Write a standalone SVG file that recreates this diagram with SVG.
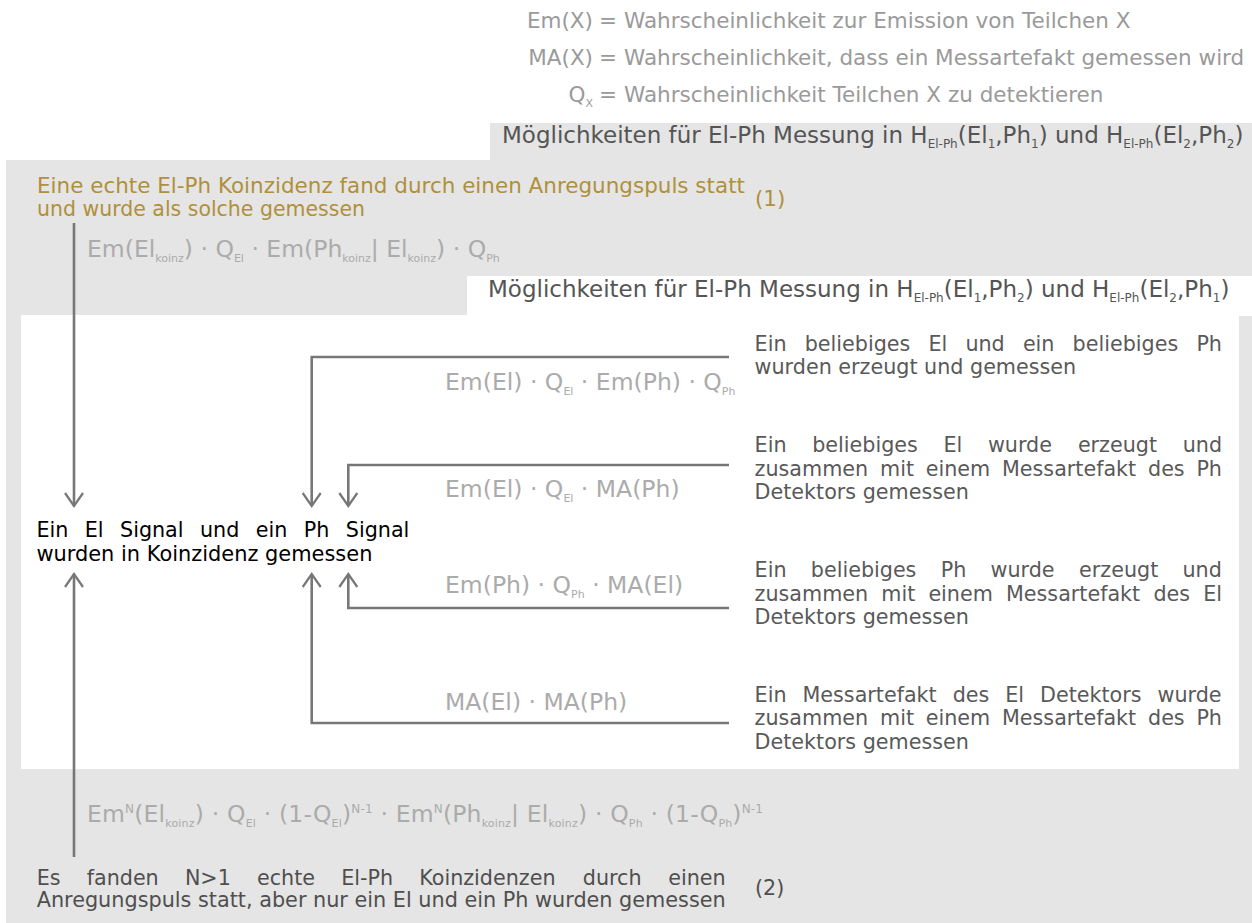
<svg xmlns="http://www.w3.org/2000/svg" width="1252" height="923" viewBox="0 0 1252 923">
<defs>
<style>
text{font-family:"DejaVu Sans",sans-serif}
.leg{font-size:21.5px;fill:#9a9a9a}
.hdr{font-size:23px;fill:#555}
.hdr .sb{font-size:12px}
.desc{font-size:20.7px;fill:#595959}
.ctr{font-size:20.7px;fill:#000}
.bot{font-size:20.7px;fill:#4f4f4f}
.frm{font-size:23.5px;fill:#ababab}
.ttl{font-size:21.4px;fill:#b0903c}
.sb{font-size:11px;baseline-shift:-5px}
.sp{font-size:12px;baseline-shift:9px}
.conn{fill:none;stroke:#777;stroke-width:2.6}
</style>
<marker id="chev" markerUnits="userSpaceOnUse" markerWidth="30" markerHeight="30" refX="0" refY="0" viewBox="-15 -15 30 30" orient="auto" overflow="visible">
<path d="M-13,-9 L0,0 L-13,9" fill="none" stroke="#777" stroke-width="2.2" stroke-linejoin="miter"/>
</marker>
</defs>

<g id="backgrounds">
<rect x="6" y="160" width="1246" height="763" fill="#e5e5e5"/>
<rect x="490" y="123" width="762" height="38" fill="#e5e5e5"/>
<rect x="21" y="315" width="1218" height="454" fill="#fff"/>
<rect x="467" y="276" width="785" height="40" fill="#fff"/>
</g>

<g id="legend">
<text class="leg" x="593" y="28" text-anchor="end">Em(X)</text>
<text class="leg" x="599" y="28">=</text>
<text class="leg" x="624" y="28">Wahrscheinlichkeit zur Emission von Teilchen X</text>
<text class="leg" x="593" y="65" text-anchor="end">MA(X)</text>
<text class="leg" x="599" y="65">=</text>
<text class="leg" x="624" y="65">Wahrscheinlichkeit, dass ein Messartefakt gemessen wird</text>
<text class="leg" x="593" y="102" text-anchor="end">Q<tspan class="sb">X</tspan></text>
<text class="leg" x="599" y="102">=</text>
<text class="leg" x="624" y="102">Wahrscheinlichkeit Teilchen X zu detektieren</text>
</g>

<g id="header1">
<text class="hdr" x="502" y="143">Möglichkeiten für El-Ph Messung in H<tspan class="sb">El-Ph</tspan>(El<tspan class="sb">1</tspan>,Ph<tspan class="sb">1</tspan>) und H<tspan class="sb">El-Ph</tspan>(El<tspan class="sb">2</tspan>,Ph<tspan class="sb">2</tspan>)</text>
</g>
<g id="header2">
<text class="hdr" x="488" y="297">Möglichkeiten für El-Ph Messung in H<tspan class="sb">El-Ph</tspan>(El<tspan class="sb">1</tspan>,Ph<tspan class="sb">2</tspan>) und H<tspan class="sb">El-Ph</tspan>(El<tspan class="sb">2</tspan>,Ph<tspan class="sb">1</tspan>)</text>
</g>

<g id="connectors">
<path class="conn" d="M74,223 V506" marker-end="url(#chev)"/>
<path class="conn" d="M729,357 H311.7 V506" marker-end="url(#chev)"/>
<path class="conn" d="M729,465 H348.3 V506" marker-end="url(#chev)"/>
<path class="conn" d="M729,608 H348.3 V574" marker-end="url(#chev)"/>
<path class="conn" d="M729,723 H311.7 V574" marker-end="url(#chev)"/>
<path class="conn" d="M74,857 V574" marker-end="url(#chev)"/>
</g>

<g id="formulas">
<text class="frm" x="87" y="257">Em(El<tspan class="sb">koinz</tspan>) · Q<tspan class="sb">El</tspan> · Em(Ph<tspan class="sb">koinz</tspan>| El<tspan class="sb">koinz</tspan>) · Q<tspan class="sb">Ph</tspan></text>
<text class="frm" x="445" y="390">Em(El) · Q<tspan class="sb">El</tspan> · Em(Ph) · Q<tspan class="sb">Ph</tspan></text>
<text class="frm" x="445" y="497">Em(El) · Q<tspan class="sb">El</tspan> · MA(Ph)</text>
<text class="frm" x="445" y="593">Em(Ph) · Q<tspan class="sb">Ph</tspan> · MA(El)</text>
<text class="frm" x="445" y="710">MA(El) · MA(Ph)</text>
<text class="frm" x="87" y="822" textLength="676" lengthAdjust="spacing">Em<tspan class="sp">N</tspan>(El<tspan class="sb">koinz</tspan>) · Q<tspan class="sb">El</tspan> · (1-Q<tspan class="sb">El</tspan>)<tspan class="sp">N-1</tspan> · Em<tspan class="sp">N</tspan>(Ph<tspan class="sb">koinz</tspan>| El<tspan class="sb">koinz</tspan>) · Q<tspan class="sb">Ph</tspan> · (1-Q<tspan class="sb">Ph</tspan>)<tspan class="sp">N-1</tspan></text>
</g>

<g id="node-title">
<text class="ttl" x="37" y="193" textLength="708" lengthAdjust="spacingAndGlyphs">Eine echte El-Ph Koinzidenz fand durch einen Anregungspuls statt</text>
<text class="ttl" x="37" y="216" textLength="328" lengthAdjust="spacingAndGlyphs">und wurde als solche gemessen</text>
<text class="ttl" x="755" y="206">(1)</text>
</g>

<g id="node-center">
<text class="ctr" y="537"><tspan x="36.4">Ein</tspan><tspan x="84.8">El</tspan><tspan x="120">Signal</tspan><tspan x="200">und</tspan><tspan x="255.8">ein</tspan><tspan x="303.8">Ph</tspan><tspan x="345.8">Signal</tspan></text>
<text class="ctr" x="36.4" y="561" textLength="336" lengthAdjust="spacingAndGlyphs">wurden in Koinzidenz gemessen</text>
</g>

<g id="node-a">
<text class="desc" y="350.5"><tspan x="754.6">Ein</tspan><tspan x="804.7">beliebiges</tspan><tspan x="928.5">El</tspan><tspan x="965.4">und</tspan><tspan x="1022.9">ein</tspan><tspan x="1072.6">beliebiges</tspan><tspan x="1196.4">Ph</tspan></text>
<text class="desc" x="754.6" y="374">wurden erzeugt und gemessen</text>
</g>

<g id="node-b">
<text class="desc" y="452"><tspan x="754.6">Ein</tspan><tspan x="812.2">beliebiges</tspan><tspan x="943.5">El</tspan><tspan x="987.9">wurde</tspan><tspan x="1077.9">erzeugt</tspan><tspan x="1182.7">und</tspan></text>
<text class="desc" y="475.5"><tspan x="754.6">zusammen</tspan><tspan x="880">mit</tspan><tspan x="925.7">einem</tspan><tspan x="1002">Messartefakt</tspan><tspan x="1148">des</tspan><tspan x="1196.4">Ph</tspan></text>
<text class="desc" x="754.6" y="499">Detektors gemessen</text>
</g>

<g id="node-c">
<text class="desc" y="577"><tspan x="754.6">Ein</tspan><tspan x="810.8">beliebiges</tspan><tspan x="940.7">Ph</tspan><tspan x="990.5">wurde</tspan><tspan x="1079.1">erzeugt</tspan><tspan x="1182.5">und</tspan></text>
<text class="desc" y="600.5"><tspan x="754.6">zusammen</tspan><tspan x="881.3">mit</tspan><tspan x="928.4">einem</tspan><tspan x="1006">Messartefakt</tspan><tspan x="1153.4">des</tspan><tspan x="1203.2">El</tspan></text>
<text class="desc" x="754.6" y="624">Detektors gemessen</text>
</g>

<g id="node-d">
<text class="desc" y="701.5"><tspan x="754.6">Ein</tspan><tspan x="802.5">Messartefakt</tspan><tspan x="952.7">des</tspan><tspan x="1005.3">El</tspan><tspan x="1040">Detektors</tspan><tspan x="1157.5">wurde</tspan></text>
<text class="desc" y="725"><tspan x="754.6">zusammen</tspan><tspan x="880">mit</tspan><tspan x="925.7">einem</tspan><tspan x="1002">Messartefakt</tspan><tspan x="1148">des</tspan><tspan x="1196.4">Ph</tspan></text>
<text class="desc" x="754.6" y="748.5">Detektors gemessen</text>
</g>

<g id="node-bottom">
<text class="bot" y="885"><tspan x="36.7">Es</tspan><tspan x="86.7">fanden</tspan><tspan x="184.9">N&gt;1</tspan><tspan x="257">echte</tspan><tspan x="341.2">El-Ph</tspan><tspan x="419.2">Koinzidenzen</tspan><tspan x="582.8">durch</tspan><tspan x="668.2">einen</tspan></text>
<text class="bot" x="36.7" y="907" textLength="689" lengthAdjust="spacingAndGlyphs">Anregungspuls statt, aber nur ein El und ein Ph wurden gemessen</text>
<text class="bot" x="755" y="895">(2)</text>
</g>
</svg>
